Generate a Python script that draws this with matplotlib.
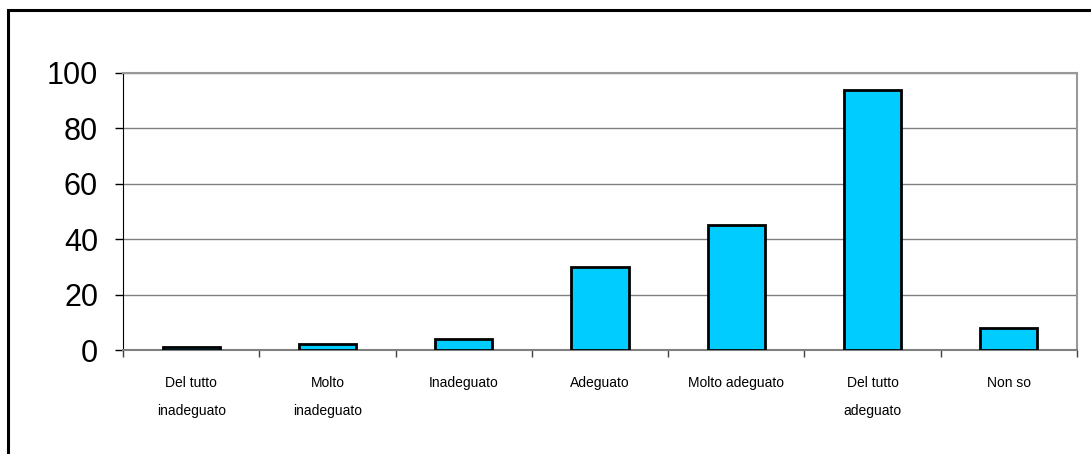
import numpy as np
import matplotlib.pyplot as plt
from matplotlib.patches import Rectangle

plt.rcParams['font.family'] = ['Liberation Sans', 'DejaVu Sans']

categories = ["Del tutto\ninadeguato", "Molto\ninadeguato", "Inadeguato", "Adeguato",
              "Molto adeguato", "Del tutto\nadeguato", "Non so"]
values = [1, 2, 4, 30, 45, 94, 8]

fig = plt.figure(figsize=(10.91, 4.54), dpi=100)
ax = fig.add_axes([123/1091, 1 - 350/454, (1077-123)/1091, (350-73)/454])

# outer chart frame (extends past right/bottom edges)
fig.patches.append(Rectangle((8/1091, -0.1), 1.2, 1 - 10/454 + 0.1,
                             transform=fig.transFigure, fill=False,
                             edgecolor="black", linewidth=2.2))

x = np.arange(len(categories))
ax.bar(x, values, width=0.42, color="#00CCFF", edgecolor="black", linewidth=2, zorder=3)

ax.set_xlim(-0.5, len(categories) - 0.5)
ax.set_ylim(0, 100)
ax.set_yticks(range(0, 101, 20))
ax.tick_params(axis="y", labelsize=22, length=6, width=1, pad=12, direction="out")
ax.yaxis.grid(True, color="#808080", linewidth=1, zorder=0)

ax.set_xticks(x)
ax.set_xticklabels(categories, fontsize=10, linespacing=2.25, va="top")
ax.set_xticks(np.arange(-0.5, len(categories)), minor=True)
ax.tick_params(axis="x", which="major", length=0, pad=19)
ax.tick_params(axis="x", which="minor", length=5, width=1, direction="out", color="#404040")

for s in ["top", "right"]:
    ax.spines[s].set_color("#999999")
    ax.spines[s].set_linewidth(1.5)
ax.spines["left"].set_color("black")
ax.spines["bottom"].set_color("#808080")
ax.spines["bottom"].set_linewidth(1.5)

fig.savefig("out.png", dpi=100)
